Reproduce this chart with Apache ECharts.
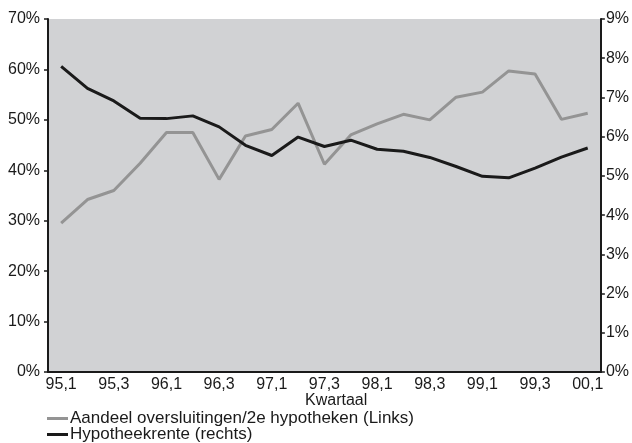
<!DOCTYPE html>
<html>
<head>
<meta charset="utf-8">
<script src="https://cdn.jsdelivr.net/npm/echarts@6/dist/echarts.min.js"></script>
<style>
html,body{margin:0;padding:0;background:#fff;}
#c{width:632px;height:443px;}
</style>
</head>
<body>
<div id="c"></div>
<script>
var categories = ['95,1','95,2','95,3','95,4','96,1','96,2','96,3','96,4','97,1','97,2','97,3','97,4','98,1','98,2','98,3','98,4','99,1','99,2','99,3','99,4','00,1'];
var aandeel = [29.5, 34.2, 36.0, 41.4, 47.5, 47.5, 38.2, 46.8, 48.1, 53.3, 41.2, 47.0, 49.2, 51.1, 50.0, 54.5, 55.5, 59.7, 59.1, 50.1, 51.3];
var rente = [7.79, 7.23, 6.91, 6.47, 6.46, 6.53, 6.25, 5.78, 5.52, 5.99, 5.75, 5.91, 5.68, 5.63, 5.47, 5.24, 4.99, 4.95, 5.20, 5.48, 5.71];
var seriesNames = ['Aandeel oversluitingen/2e hypotheken (Links)', 'Hypotheekrente (rechts)'];
var xName = 'Kwartaal';

var font = '"Liberation Sans", Arial, sans-serif';
var legendText = {fontFamily: font, fontSize: 17, color: '#1a1a1a', padding: [0,0,0,-3]};
var chart = echarts.init(document.getElementById('c'), null, {renderer: 'canvas'});
chart.setOption({
  animation: false,
  backgroundColor: '#ffffff',
  textStyle: {fontFamily: font},
  grid: {left: 48, right: 30, top: 19, bottom: 71, show: true, backgroundColor: '#d1d2d4', borderWidth: 0},
  legend: [{
    left: 47, top: 410, padding: 0,
    icon: 'rect', itemWidth: 21, itemHeight: 3,
    textStyle: legendText, data: [seriesNames[0]]
  }, {
    left: 47, top: 426, padding: 0,
    icon: 'rect', itemWidth: 21, itemHeight: 3,
    textStyle: legendText, data: [seriesNames[1]]
  }],
  graphic: [{
    type: 'text', left: 305, top: 393,
    style: {text: xName, font: '16px ' + font, fill: '#1a1a1a'}
  }],
  xAxis: {
    type: 'category', data: categories, boundaryGap: true,
    axisLine: {lineStyle: {color: '#1a1a1a', width: 2}},
    axisTick: {interval: 0, length: 4, lineStyle: {color: '#1a1a1a', width: 1.5}},
    axisLabel: {interval: 1, fontSize: 16, color: '#1a1a1a', margin: 5, fontFamily: font},
    splitLine: {show: false}
  },
  yAxis: [{
    type: 'value', min: 0, max: 70, interval: 10, position: 'left',
    axisLine: {show: true, lineStyle: {color: '#1a1a1a', width: 2}},
    axisTick: {show: true, length: 4, lineStyle: {color: '#1a1a1a', width: 1.5}},
    axisLabel: {formatter: '{value}%', fontSize: 16, color: '#1a1a1a', margin: 8, fontFamily: font},
    splitLine: {show: false}
  }, {
    type: 'value', min: 0, max: 9, interval: 1, position: 'right',
    axisLine: {show: true, lineStyle: {color: '#1a1a1a', width: 2}},
    axisTick: {show: true, length: 4, lineStyle: {color: '#1a1a1a', width: 1.5}},
    axisLabel: {formatter: '{value}%', fontSize: 16, color: '#1a1a1a', margin: 5, fontFamily: font},
    splitLine: {show: false}
  }],
  series: [{
    name: seriesNames[0], type: 'line', yAxisIndex: 0, data: aandeel,
    symbol: 'none', lineStyle: {color: '#949494', width: 3}, itemStyle: {color: '#949494'}
  }, {
    name: seriesNames[1], type: 'line', yAxisIndex: 1, data: rente,
    symbol: 'none', lineStyle: {color: '#1a1a1a', width: 3}, itemStyle: {color: '#1a1a1a'}
  }]
});
</script>
</body>
</html>
